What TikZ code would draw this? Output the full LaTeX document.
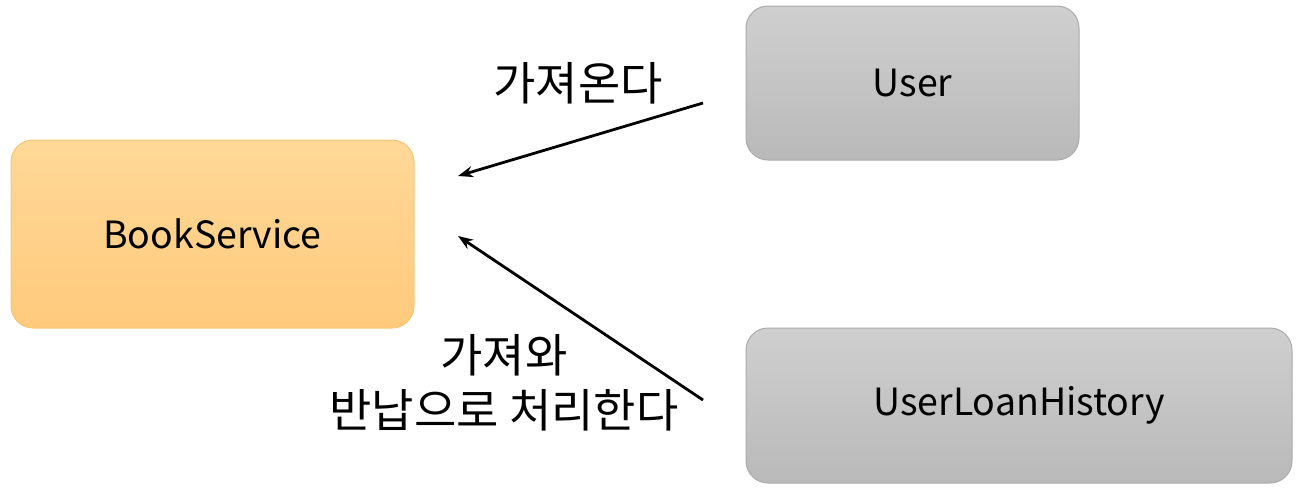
\documentclass[tikz,border=0pt]{standalone}
\usepackage{fontspec}
\setmainfont{Noto Sans CJK KR}
\usetikzlibrary{arrows.meta}
\definecolor{orTop}{HTML}{FFD898}
\definecolor{orBot}{HTML}{FFCA7C}
\definecolor{orLine}{HTML}{F5C577}
\definecolor{grTop}{HTML}{CFCFCF}
\definecolor{grBot}{HTML}{B9B9B9}
\definecolor{grLine}{HTML}{ABABAB}
\tikzset{
  box/.style={rounded corners=22pt, inner sep=0pt, font=\fontsize{37.5}{42}\selectfont, text=black},
  orbox/.style={box, draw=orLine, line width=1pt, top color=orTop, bottom color=orBot},
  grbox/.style={box, draw=grLine, line width=1pt, top color=grTop, bottom color=grBot},
  lbl/.style={font=\fontsize{46}{55}\selectfont, align=center, inner sep=0pt},
  conn/.style={line width=2.8pt, -{Stealth[length=15pt,width=11pt]}}
}
\begin{document}
\begin{tikzpicture}[x=1pt,y=-1pt]
\useasboundingbox (0,0) rectangle (1302,501);
\node[orbox, minimum width=403pt, minimum height=188pt] (bs) at (212.5,234) {BookService};
\node[grbox, minimum width=333pt, minimum height=154pt] (user) at (912.5,83) {User};
\node[grbox, minimum width=546pt, minimum height=155pt] (ulh) at (1019,405.5) {UserLoanHistory};
\coordinate (us) at (703,103);
\coordinate (ue) at (458,176);
\coordinate (hs) at (703,400);
\coordinate (he) at (458,236);
\draw[conn] (us) -- (ue);
\draw[conn] (hs) -- (he);
\node[lbl] (l1) at (578,83) {가져온다};
\node[lbl] (l2) at (504,383) {가져와\\반납으로 처리한다};
\end{tikzpicture}
\end{document}
